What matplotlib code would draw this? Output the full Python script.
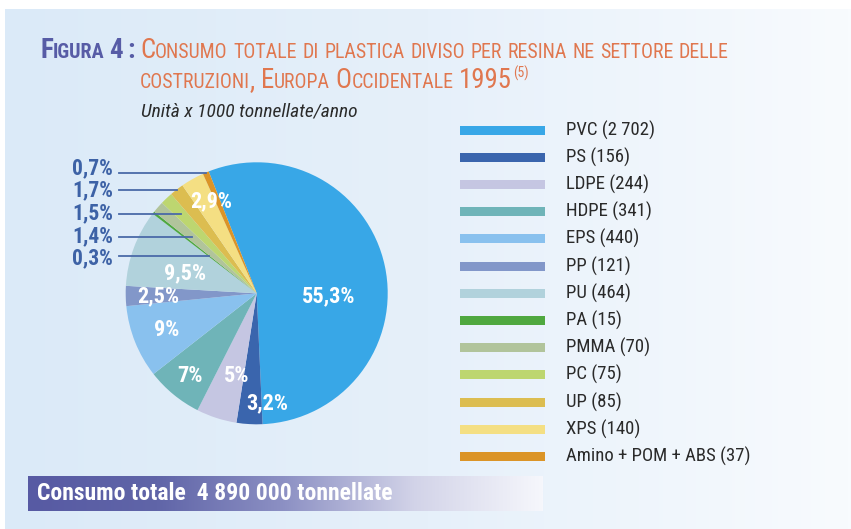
import matplotlib
matplotlib.use("Agg")
import matplotlib.pyplot as plt
import numpy as np
from matplotlib.colors import LinearSegmentedColormap
from matplotlib.patches import Rectangle

FONT = "Roboto Condensed"

# dati (migliaia di tonnellate / anno)
resine = ["PVC", "PS", "LDPE", "HDPE", "EPS", "PP", "PU", "PA", "PMMA", "PC", "UP", "XPS",
          "Amino + POM + ABS"]
quantita = [2702, 156, 244, 341, 440, 121, 464, 15, 70, 75, 85, 140, 37]
percentuali = ["55,3%", "3,2%", "5%", "7%", "9%", "2,5%", "9,5%", "0,3%", "1,4%", "1,5%",
               "1,7%", "2,9%", "0,7%"]
colori = ["#38a7e7", "#3a65ad", "#c5c6e2", "#6fb4b8", "#89c1ee", "#8297c9", "#b1d2dc",
          "#4fa83f", "#b1c49b", "#bdd670", "#dcbd50", "#f4df83", "#db9427"]
totale = "4 890 000"

fig = plt.figure(figsize=(8.51, 5.29), dpi=100)
W, H = 851, 529

# sfondo in coordinate pixel
bg = fig.add_axes([0, 0, 1, 1])
bg.set_xlim(0, W)
bg.set_ylim(H, 0)
bg.axis("off")
cm_bg = LinearSegmentedColormap.from_list("bg", ["#dbeaf8", "#e6f0fa", "#f8fbfe"])
bg.imshow(np.linspace(0, 1, 256)[None, :], cmap=cm_bg, aspect="auto",
          extent=[5, W, H, 9], zorder=0)

renderer = fig.canvas.get_renderer()


def maiuscoletto(x, y, s, big, small, color, weight="normal", sp_fac=0.28):
    # small caps: maiuscole grandi, minuscole come maiuscole piccole
    sp = small * 100 / 72 * sp_fac
    parole = s.split(" ")
    for k, parola in enumerate(parole):
        runs = []
        for ch in parola:
            grande = not ch.islower()
            if runs and runs[-1][1] == grande:
                runs[-1][0] += ch
            else:
                runs.append([ch, grande])
        for testo, grande in runs:
            t = bg.text(x, y, testo.upper(), fontsize=big if grande else small, family=FONT,
                        color=color, weight=weight, va="baseline", ha="left")
            x += t.get_window_extent(renderer).width
        if k < len(parole) - 1:
            x += sp
    return x


blu_tit = "#575ca6"
arancio = "#e0774f"
maiuscoletto(40, 58, "Figura 4 :", 19.5, 14.5, blu_tit, "bold", 0.22)
maiuscoletto(140, 58, "Consumo totale di plastica diviso per resina ne settore delle", 19.3, 14.35, arancio)
xe = maiuscoletto(140, 88, "costruzioni, Europa Occidentale 1995", 19.3, 14.35, arancio)
bg.text(xe + 1, 78, "(5)", fontsize=10, family=FONT, color=arancio, va="baseline")
bg.text(141, 117, "Unità x 1000 tonnellate/anno", fontsize=14, family=FONT, style="italic",
        color="#2b2b2b", va="baseline")

# barra del consumo totale
cm_bar = LinearSegmentedColormap.from_list("bar", ["#575aa3", "#6065a8", "#8d91c4", "#d2d3e8", "#f6f7fc"])
bg.imshow(np.linspace(0, 1, 256)[None, :], cmap=cm_bar, aspect="auto",
          extent=[28, 543, 511, 476], zorder=1)
bg.text(37, 500, f"Consumo totale  {totale} tonnellate", fontsize=17, family=FONT,
        weight="bold", color="white", va="baseline", zorder=2)

# legenda
for i, (nome, q, c) in enumerate(zip(resine, quantita, colori)):
    yc = 130 + i * 27.2
    bg.add_patch(Rectangle((460, yc - 4.5), 85, 9, color=c, lw=0, zorder=2))
    bg.text(566, yc, f"{nome} ({q:,})".replace(",", " "), fontsize=13.5, family=FONT,
            color="#2a2a2a", va="center", ha="left")

# torta
cx, cy, r = 256.7, 293.3, 131
ax = fig.add_axes([(cx - r) / W, (H - cy - r) / H, 2 * r / W, 2 * r / H])
ax.set_zorder(3)
ax.patch.set_visible(False)
wedges, _ = ax.pie(quantita, colors=colori, startangle=111.5, counterclock=False,
                   wedgeprops=dict(linewidth=0))
ax.set_xlim(-1, 1)
ax.set_ylim(-1, 1)
ax.set_aspect("equal")
ax.axis("off")

# etichette interne
interne = {0: (0.55, -0.02), 1: (0.08, -0.84), 2: (-0.15, -0.63), 3: (-0.51, -0.63),
           4: (-0.69, -0.28), 5: (-0.75, -0.02), 6: (-0.55, 0.15), 11: (-0.35, 0.70)}
for i, (px, py) in interne.items():
    ax.text(px, py, percentuali[i], fontsize=16, family=FONT, weight="bold", color="white",
            ha="center", va="center")

# etichette esterne con linee di richiamo
esterne = [12, 10, 9, 8, 7]
y_linee = [0.918, 0.789, 0.605, 0.430, 0.285]
y_testi = [0.955, 0.785, 0.610, 0.435, 0.265]
blu_lab = "#3d62a6"
for i, yl, yt in zip(esterne, y_linee, y_testi):
    w = wedges[i]
    th = np.deg2rad((w.theta1 + w.theta2) / 2)
    x_end = yl / np.tan(th)
    ax.plot([-1.05, x_end], [yl, yl], color="#4a6aa8", lw=1.3, clip_on=False, zorder=5)
    ax.text(-1.095, yt, percentuali[i], fontsize=15.5, family=FONT, weight="bold",
            color=blu_lab, ha="right", va="center", clip_on=False)

fig.savefig("out.png", dpi=100)
